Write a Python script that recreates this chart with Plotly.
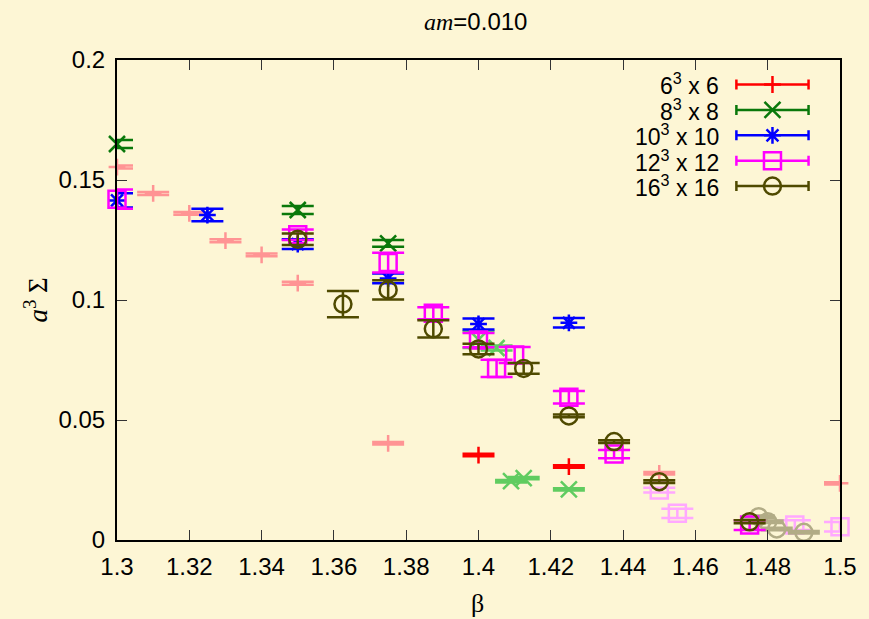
import plotly.graph_objects as go

BG = "#fdf6d5"

# ---- main series: beta, a^3 Sigma, error ----
beta_6 = [1.400, 1.425]
sig_6 = [0.0354, 0.0306]
err_6 = [0.0005, 0.0005]

beta_8 = [1.300, 1.350, 1.375]
sig_8 = [0.1650, 0.1375, 0.1236]
err_8 = [0.0017, 0.0017, 0.0014]

beta_10 = [1.300, 1.325, 1.350, 1.375, 1.400, 1.425]
sig_10 = [0.1415, 0.1354, 0.1233, 0.1090, 0.0900, 0.0905]
err_10 = [0.0030, 0.0026, 0.0020, 0.0020, 0.0023, 0.0020]

beta_12 = [1.300, 1.350, 1.375, 1.3875, 1.400, 1.405, 1.410, 1.425, 1.4375, 1.475]
sig_12 = [0.1420, 0.1272, 0.1156, 0.0945, 0.0833, 0.0715, 0.0771, 0.0595, 0.0358, 0.0062]
err_12 = [0.0040, 0.0022, 0.0041, 0.0025, 0.0030, 0.0036, 0.0033, 0.0026, 0.0017, 0.0020]

beta_16 = [1.350, 1.3625, 1.375, 1.3875, 1.400, 1.4125, 1.425, 1.4375, 1.450, 1.475]
sig_16 = [0.1253, 0.0983, 0.1042, 0.0880, 0.0796, 0.0715, 0.0517, 0.0410, 0.0243, 0.0076]
err_16 = [0.0024, 0.0055, 0.0040, 0.0036, 0.0022, 0.0022, 0.0006, 0.0006, 0.0006, 0.0006]

# ---- auxiliary runs (drawn in lighter shades) ----
beta_6_aux = [1.300, 1.310, 1.320, 1.330, 1.340, 1.350, 1.375, 1.450, 1.500]
sig_6_aux = [0.1554, 0.1444, 0.1361, 0.1247, 0.1188, 0.1070, 0.0403, 0.0278, 0.0236]
err_6_aux = [0.0006, 0.0006, 0.0006, 0.0006, 0.0006, 0.0006, 0.0005, 0.0005, 0.0005]

beta_8_aux = [1.400, 1.405, 1.409, 1.4125, 1.425]
sig_8_aux = [0.0835, 0.0800, 0.0245, 0.0258, 0.0211]
err_8_aux = [0.0035, 0.0010, 0.0005, 0.0005, 0.0005]

beta_12_aux = [1.450, 1.455, 1.4875, 1.500]
sig_12_aux = [0.0208, 0.0111, 0.0062, 0.0055]
err_12_aux = [0.0010, 0.0019, 0.0020, 0.0020]

beta_16_aux = [1.4775, 1.480, 1.4825, 1.490]
sig_16_aux = [0.0097, 0.0076, 0.0046, 0.0032]
err_16_aux = [0.0005, 0.0005, 0.0005, 0.0005]

labels = ["6<sup>3</sup> x 6", "8<sup>3</sup> x 8", "10<sup>3</sup> x 10",
          "12<sup>3</sup> x 12", "16<sup>3</sup> x 16"]

main = [
    (beta_6, sig_6, err_6, "cross-thin", "#ff0000", 12),
    (beta_8, sig_8, err_8, "x-thin", "#0a780a", 16),
    (beta_10, sig_10, err_10, "asterisk", "#0000ff", 14),
    (beta_12, sig_12, err_12, "square-open", "#ff00ff", 17),
    (beta_16, sig_16, err_16, "circle-open", "#4f4a00", 17),
]
aux = [
    (beta_6_aux, sig_6_aux, err_6_aux, "cross-thin", "#ff9494", 12),
    (beta_8_aux, sig_8_aux, err_8_aux, "x-thin", "#60cc60", 16),
    (beta_12_aux, sig_12_aux, err_12_aux, "square-open", "#ffa8ff", 17),
    (beta_16_aux, sig_16_aux, err_16_aux, "circle-open", "#b2ac86", 17),
]

fig = go.Figure()


def add_series(bx, sy, ey, sym, col, size):
    fig.add_trace(go.Scatter(
        x=bx, y=sy, mode="markers", showlegend=False, cliponaxis=False,
        marker=dict(symbol=sym, size=size, color=col,
                    line=dict(color=col, width=2.5)),
        error_y=dict(type="data", array=ey, visible=True, width=16,
                     thickness=2.5, color=col),
    ))


for s in aux:
    add_series(*s)
for s in main:
    add_series(*s)

# key samples on an overlay axis spanning the plot area (0..1)
key_x = 0.9066
key_half = 0.0499
key_y = [0.9490, 0.8960, 0.8431, 0.7902, 0.7373]
for (bx, sy, ey, sym, col, size), ky, lab in zip(main, key_y, labels):
    fig.add_trace(go.Scatter(
        x=[key_x], y=[ky], xaxis="x2", yaxis="y2", mode="markers",
        showlegend=False, cliponaxis=False,
        marker=dict(symbol=sym, size=size, color=col,
                    line=dict(color=col, width=2.5)),
        error_x=dict(type="data", array=[key_half], visible=True, width=5,
                     thickness=2.5, color=col),
    ))
    fig.add_annotation(x=0.8352, y=ky, xref="x2", yref="y2", text=lab,
                       showarrow=False, xanchor="right", yanchor="middle",
                       font=dict(family="Liberation Sans, Arial", size=23,
                                 color="black"))

axis_common = dict(
    showline=True, linewidth=2, linecolor="black", mirror="allticks",
    ticks="inside", ticklen=10, tickwidth=1, tickcolor="#333333",
    showgrid=False, zeroline=False,
    tickfont=dict(family="Liberation Sans, Arial", size=24, color="black"),
)

fig.update_layout(
    width=869, height=619,
    margin=dict(l=117, r=24, t=60, b=79),
    paper_bgcolor=BG, plot_bgcolor=BG,
    showlegend=False,
    xaxis=dict(range=[1.3, 1.5], tick0=1.3, dtick=0.02,
               ticklabelstandoff=4, **axis_common),
    yaxis=dict(range=[0, 0.2], tick0=0, dtick=0.05,
               ticklabelstandoff=5, **axis_common),
    xaxis2=dict(range=[0, 1], overlaying="x", visible=False),
    yaxis2=dict(range=[0, 1], overlaying="y", visible=False),
)

# title
fig.add_annotation(
    x=0.496, y=1.081, xref="paper", yref="paper", showarrow=False,
    xanchor="center", yanchor="middle",
    text="<span style='font-family:Liberation Serif'><i>am</i></span>=0.010",
    font=dict(family="Liberation Sans", size=24, color="black"),
)
# axis titles
fig.add_annotation(
    x=-0.1126, y=0.5, xref="paper", yref="paper", showarrow=False,
    textangle=-90, xanchor="center", yanchor="middle",
    text="<i>a</i><sup>3</sup> Σ",
    font=dict(family="Liberation Serif", size=27, color="black"),
)
fig.add_annotation(
    x=0.4986, y=-0.133, xref="paper", yref="paper", showarrow=False,
    xanchor="center", yanchor="middle", text="β",
    font=dict(family="Liberation Serif", size=26, color="black"),
)

fig.write_html("out.html")
